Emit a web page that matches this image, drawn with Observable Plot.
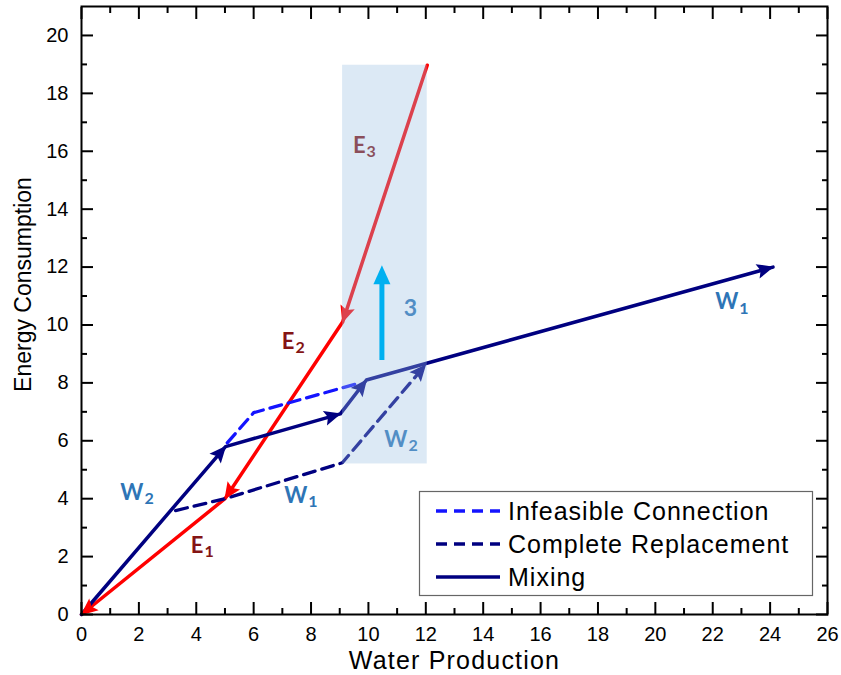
<!DOCTYPE html>
<html><head><meta charset="utf-8">
<script src="https://cdn.jsdelivr.net/npm/d3@7"></script>
<script src="https://cdn.jsdelivr.net/npm/@observablehq/plot@0.6"></script>
<style>body{margin:0;background:#fff;} #chart{width:841px;height:675px;}</style>
</head><body><div id="chart"></div>
<script>
// ---- data ----
const xTitle = "Water Production";
const yTitle = "Energy Consumption";
const xMajor = [0,2,4,6,8,10,12,14,16,18,20,22,24,26];
const xMinor = [1,3,5,7,9,11,13,15,17,19,21,23,25];
const yMajor = [0,2,4,6,8,10,12,14,16,18,20];
const yMinor = [1,3,5,7,9,11,13,15,17,19];

// energy path (drawn from E3 back towards the origin)
const energyX = [12.05, 9.1, 5.0, 0];
const energyY = [18.97, 10.1, 4.0, 0];
const energyHeads = [1, 2, 3];
// mixing path (solid navy)
const mixingX = [0, 5.02, 9.02, 9.93, 24.1];
const mixingY = [0, 5.8, 6.93, 8.1, 12.0];
const mixingHeads = [1, 2, 3, 4];
// complete replacement (dashed navy)
const replaceX = [3.28, 5.0, 9.09, 11.99];
const replaceY = [3.59, 4.0, 5.24, 8.62];
const replaceHeads = [3];
// infeasible connection (dashed blue)
const infeasX = [5.08, 6.0, 9.6];
const infeasY = [5.93, 6.97, 7.97];

// highlighted band
const bandX = [9.1, 12.05];
const bandY = [5.2, 18.97];
// vertical cyan arrow "3"
const upX = [10.47, 10.47];
const upY = [8.79, 12.03];

// labels: letter, subscript, position (junction of letter and subscript)
const labLetter = ["E","E","E","W","W","W","W"];
const labSub    = ["1","2","3","2","1","2","1"];
const labX      = [4.25, 7.42, 9.9, 2.16, 7.87, 11.36, 22.89];
const labY      = [2.38, 9.4, 16.2, 4.21, 4.11, 6.04, 10.78];
const bandLabel = "3";
const bandLabelX = [11.46];
const bandLabelY = [10.57];

const legendLabels = ["Infeasible Connection", "Complete Replacement", "Mixing"];
const legendColors = ["#1414ff", "#000080", "#000080"];
const legendDash   = ["11,7", "11,7", null];

// ---- layout ----
const W = 841, H = 675;
const M = {left: 81, right: 14, top: 6, bottom: 61};
const xDomain = [0, 26], yDomain = [0, 21];
const kx = (W - M.left - M.right) / (xDomain[1] - xDomain[0]);
const ky = (H - M.top - M.bottom) / (yDomain[1] - yDomain[0]);

const RED = "#ff0000", NAVY = "#000080", BLUE = "#1414ff";
const ELAB = "#841414", WLAB = "#2e75b6";
const LABFONT = "Lato, 'Open Sans', sans-serif";

const pts = (xs, ys) => xs.map((x, i) => ({x, y: ys[i]}));
function heads(xs, ys, idx) {
  return idx.map(i => ({
    x: xs[i], y: ys[i],
    angle: Math.atan2(-(ys[i] - ys[i-1]) * ky, (xs[i] - xs[i-1]) * kx)
  }));
}
function headSymbol(a, L, Wd, notch) {
  return {draw(ctx) {
    const c = Math.cos(a), s = Math.sin(a);
    const p = (u, v) => [u * c - v * s, u * s + v * c];
    ctx.moveTo(...p(1, 0));
    ctx.lineTo(...p(-L, -Wd));
    ctx.lineTo(...p(-L * notch, 0));
    ctx.lineTo(...p(-L, Wd));
    ctx.closePath();
  }};
}
const headMarks = (list, color, L = 16, Wd = 7.5, notch = 0.8) =>
  list.map(h => Plot.dot([h], {x: "x", y: "y", r: 5, symbol: headSymbol(h.angle, L, Wd, notch), fill: color, stroke: "none"}));

const energyH = heads(energyX, energyY, energyHeads);
const mixingH = heads(mixingX, mixingY, mixingHeads);
const replaceH = heads(replaceX, replaceY, replaceHeads);
const upH = heads(upX, upY, [1]);

const labels = labLetter.map((t, i) => ({t, s: labSub[i], x: labX[i], y: labY[i], c: t === "E" ? ELAB : WLAB}));
const band = [{x1: bandX[0], x2: bandX[1], y1: bandY[0], y2: bandY[1]}];

const axisCommon = {label: null, strokeWidth: 2, color: "black"};

const chart = Plot.plot({
  width: W, height: H,
  marginLeft: M.left, marginRight: M.right, marginTop: M.top, marginBottom: M.bottom,
  x: {domain: xDomain},
  y: {domain: yDomain},
  style: {fontFamily: "'Liberation Sans', Arial, sans-serif", background: "white", color: "black"},
  marks: [
    // lines
    Plot.line(pts(energyX, energyY), {x: "x", y: "y", stroke: RED, strokeWidth: 3.5}),
    Plot.line(pts(mixingX, mixingY), {x: "x", y: "y", stroke: NAVY, strokeWidth: 3.5}),
    Plot.line(pts(replaceX, replaceY), {x: "x", y: "y", stroke: NAVY, strokeWidth: 3.3, strokeDasharray: "12,7"}),
    Plot.line(pts(infeasX, infeasY), {x: "x", y: "y", stroke: BLUE, strokeWidth: 3.3, strokeDasharray: "12,7"}),
    ...headMarks(mixingH, NAVY),
    ...headMarks(replaceH, NAVY),
    ...headMarks(energyH, RED),
    // labels
    Plot.text(labels, {x: "x", y: "y", text: "t", fill: "c", textAnchor: "end", fontSize: 22, fontWeight: "bold", fontFamily: LABFONT}),
    Plot.text(labels, {x: "x", y: "y", text: "s", fill: "c", textAnchor: "start", dx: 1, dy: 6, fontSize: 16, fontWeight: "bold", fontFamily: LABFONT}),
    Plot.text([bandLabel], {x: () => bandLabelX[0], y: () => bandLabelY[0], text: d => d, fill: WLAB, fontSize: 23, fontWeight: "bold", fontFamily: LABFONT}),
    // translucent band
    Plot.rect(band, {x1: "x1", x2: "x2", y1: "y1", y2: "y2", fill: "#98bee2", fillOpacity: 0.34}),
    // cyan arrow
    Plot.arrow([{x1: upX[0], y1: upY[0], x2: upX[1], y2: upY[1]}], {x1: "x1", y1: "y1", x2: "x2", y2: "y2", stroke: "#00b0f0", strokeWidth: 5, headLength: 0, insetEnd: 12, strokeLinecap: "butt"}),
    ...headMarks(upH, "#00b0f0", 18, 8.5, 1),
    // axes (ticks pointing inward)
    Plot.axisX({...axisCommon, anchor: "bottom", ticks: xMajor, tickSize: -12, tickPadding: 24, fontSize: 20}),
    Plot.axisX({...axisCommon, anchor: "bottom", ticks: xMinor, tickSize: -6, tickFormat: () => ""}),
    Plot.axisX({...axisCommon, anchor: "top", ticks: xMajor, tickSize: -12, tickFormat: () => ""}),
    Plot.axisX({...axisCommon, anchor: "top", ticks: xMinor, tickSize: -6, tickFormat: () => ""}),
    Plot.axisY({...axisCommon, anchor: "left", ticks: yMajor, tickSize: -12, tickPadding: 25, fontSize: 20}),
    Plot.axisY({...axisCommon, anchor: "left", ticks: yMinor, tickSize: -6, tickFormat: () => ""}),
    Plot.axisY({...axisCommon, anchor: "right", ticks: yMajor, tickSize: -12, tickFormat: () => ""}),
    Plot.axisY({...axisCommon, anchor: "right", ticks: yMinor, tickSize: -6, tickFormat: () => ""}),
    Plot.frame({stroke: "black", strokeWidth: 2}),
    // axis titles
    Plot.text([xTitle], {text: d => d, frameAnchor: "bottom", lineAnchor: "middle", textAnchor: "middle", dy: 46, fontSize: 25, fill: "black"}),
    Plot.text([yTitle], {text: d => d, frameAnchor: "left", lineAnchor: "middle", textAnchor: "middle", dx: -58, dy: -26, rotate: -90, fontSize: 23, fill: "black"})
  ]
});
document.getElementById("chart").appendChild(chart);

const svg = d3.select(chart);
// slightly wider tracking on the x title, as in the reference
svg.selectAll("text").filter(function() { return this.textContent === xTitle; })
  .style("letter-spacing", "1.2px");

// legend box inside the plot area
const lg = svg.append("g").attr("font-family", "'Liberation Sans', Arial, sans-serif").attr("text-anchor", "start");
lg.append("rect").attr("x", 419.5).attr("y", 491.5).attr("width", 393).attr("height", 104)
  .attr("fill", "white").attr("stroke", "#666").attr("stroke-width", 1.2);
legendLabels.forEach((t, i) => {
  const y = 511 + i * 33;
  lg.append("line").attr("x1", 436).attr("x2", 500).attr("y1", y).attr("y2", y)
    .attr("stroke", legendColors[i]).attr("stroke-width", 3.5)
    .attr("stroke-dasharray", legendDash[i]);
  lg.append("text").attr("x", 508).attr("y", y).attr("dy", "0.35em").attr("text-anchor", "start")
    .attr("font-size", 25).style("letter-spacing", "1px").attr("fill", "black").text(t);
});
</script>
</body></html>
